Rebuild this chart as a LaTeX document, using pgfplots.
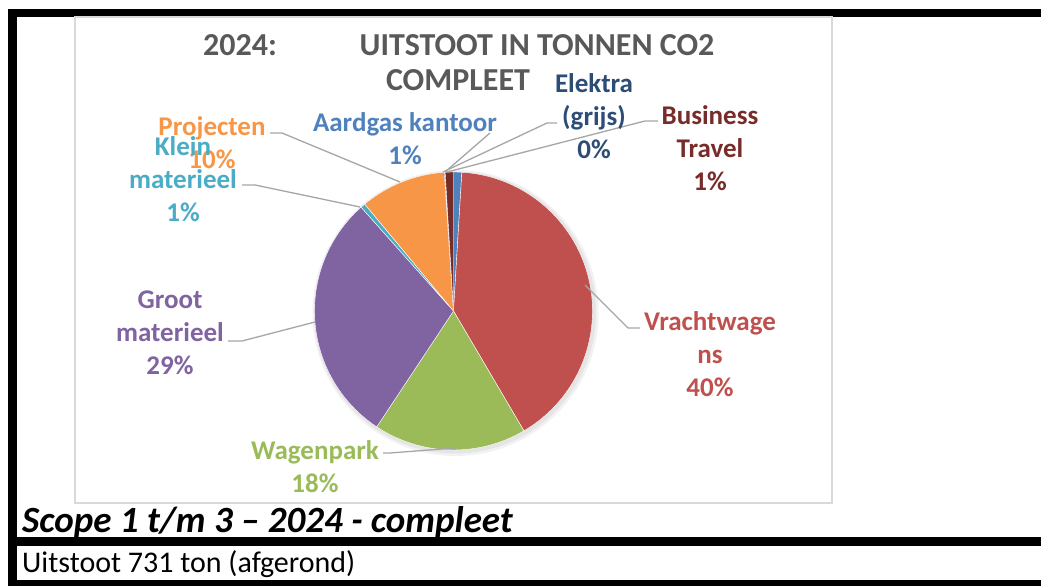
\documentclass[border=0pt]{standalone}
\usepackage{fontspec}
\setmainfont{Carlito}
\usepackage{pgfplots}
\usepackage{pgfplotstable}
\pgfplotsset{compat=1.18}

\definecolor{slice0}{HTML}{4F81BD}
\definecolor{slice1}{HTML}{C0504D}
\definecolor{slice2}{HTML}{9BBB59}
\definecolor{slice3}{HTML}{8064A2}
\definecolor{slice4}{HTML}{4BACC6}
\definecolor{slice5}{HTML}{F79646}
\definecolor{slice6}{HTML}{2C4D75}
\definecolor{slice7}{HTML}{772C2A}
\definecolor{titlegray}{HTML}{595959}
\definecolor{leader}{HTML}{A6A6A6}
\definecolor{frame}{HTML}{D9D9D9}

% CO2 emissions in tonnes, clockwise from 12 o'clock
\pgfplotstableread[col sep=comma]{
name,value
Aardgas kantoor,7
Vrachtwagens,297
Wagenpark,130
Groot materieel,213
Klein materieel,4
Projecten,73
Elektra (grijs),0.7
Business Travel,7
}\piedata

\begin{document}
\begin{tikzpicture}
\begin{axis}[
  x=1pt, y=1pt,
  xmin=0, xmax=1041, ymin=0, ymax=586,
  hide axis, clip=false,
]
% background
\fill[white] (axis cs:0,0) rectangle (axis cs:1041,586);
% black table rules
\fill[black] (axis cs:8,577) rectangle (axis cs:1041,569);
\fill[black] (axis cs:8,577) rectangle (axis cs:17,0);
\fill[black] (axis cs:8,49) rectangle (axis cs:1041,40);
\fill[black] (axis cs:8,6) rectangle (axis cs:1041,0);
% chart area border
\draw[frame, line width=1.5pt] (axis cs:75,569) rectangle (axis cs:832,83);

% soft shadow of the pie
\fill[black, opacity=0.05] (axis cs:455.5,273) circle[radius=143pt];
\fill[black, opacity=0.05] (axis cs:455,273.5) circle[radius=141pt];

% pie slices from the table
\pgfplotstablegetrowsof{\piedata}
\pgfmathtruncatemacro{\lastrow}{\pgfplotsretval-1}
\def\total{0}
\pgfplotsforeachungrouped \i in {0,...,\lastrow}{%
  \pgfplotstablegetelem{\i}{value}\of\piedata
  \pgfmathsetmacro{\total}{\total+\pgfplotsretval}%
}
\def\cum{0}
\pgfplotsforeachungrouped \i in {0,...,\lastrow}{%
  \pgfplotstablegetelem{\i}{value}\of\piedata
  \pgfmathsetmacro{\angA}{90-(\cum/\total)*360}%
  \pgfmathsetmacro{\cum}{\cum+\pgfplotsretval}%
  \pgfmathsetmacro{\angB}{90-(\cum/\total)*360}%
  \edef\temp{\noexpand\fill[slice\i, draw=white, line width=0.4pt, line join=round] (axis cs:453.5,275) -- ++(\angA:139pt) arc[start angle=\angA, end angle=\angB, radius=139pt] -- cycle;}%
  \temp
}

% leader lines
\begin{scope}[leader, line width=1.3pt]
\draw (axis cs:270,453) -- (axis cs:282,453) -- (axis cs:400,404);
\draw (axis cs:242,401) -- (axis cs:255,401) -- (axis cs:360,379);
\draw (axis cs:228,245) -- (axis cs:242,245) -- (axis cs:315,264);
\draw (axis cs:585,301) -- (axis cs:628,258) -- (axis cs:640,258);
\draw (axis cs:455,138) -- (axis cs:390,133) -- (axis cs:383,133);
\draw (axis cs:445,414) -- (axis cs:490,453);
\draw (axis cs:443,414) -- (axis cs:547,463) -- (axis cs:557,463);
\draw (axis cs:447,414) -- (axis cs:645,465) -- (axis cs:658,465);
\end{scope}

% title
\tikzset{ttl/.style={titlegray, font=\fontsize{32}{36}\selectfont\bfseries, inner sep=0pt}}
\node[ttl] at (axis cs:240,541) {2024:};
\node[ttl] at (axis cs:537,541) {UITSTOOT IN TONNEN CO2};
\node[ttl] at (axis cs:458,506) {COMPLEET};

% data labels
\tikzset{lbl/.style={align=center, font=\fontsize{27}{33}\selectfont\bfseries, inner sep=0pt}}
\node[lbl, slice0] at (axis cs:405,447.5) {Aardgas kantoor\\1\%};
\node[lbl, slice6] at (axis cs:594,470) {Elektra\\(grijs)\\0\%};
\node[lbl, slice7] at (axis cs:710,438) {Business\\Travel\\1\%};
\node[lbl, slice5] at (axis cs:212,443.5) {Projecten\\10\%};
\node[lbl, slice4] at (axis cs:183,407) {Klein\\materieel\\1\%};
\node[lbl, slice3] at (axis cs:170,253) {Groot\\materieel\\29\%};
\node[lbl, slice1] at (axis cs:710,232) {Vrachtwage\\ns\\40\%};
\node[lbl, slice2] at (axis cs:315,119) {Wagenpark\\18\%};

% captions below the chart
\node[anchor=west, inner sep=0pt, font=\fontsize{37}{42}\selectfont\bfseries\itshape] at (axis cs:22,64) {Scope 1 t/m 3 -- 2024 - compleet};
\node[anchor=west, inner sep=0pt, font=\fontsize{30}{34}\selectfont] at (axis cs:22,22) {Uitstoot 731 ton (afgerond)};
\end{axis}
\end{tikzpicture}
\end{document}
